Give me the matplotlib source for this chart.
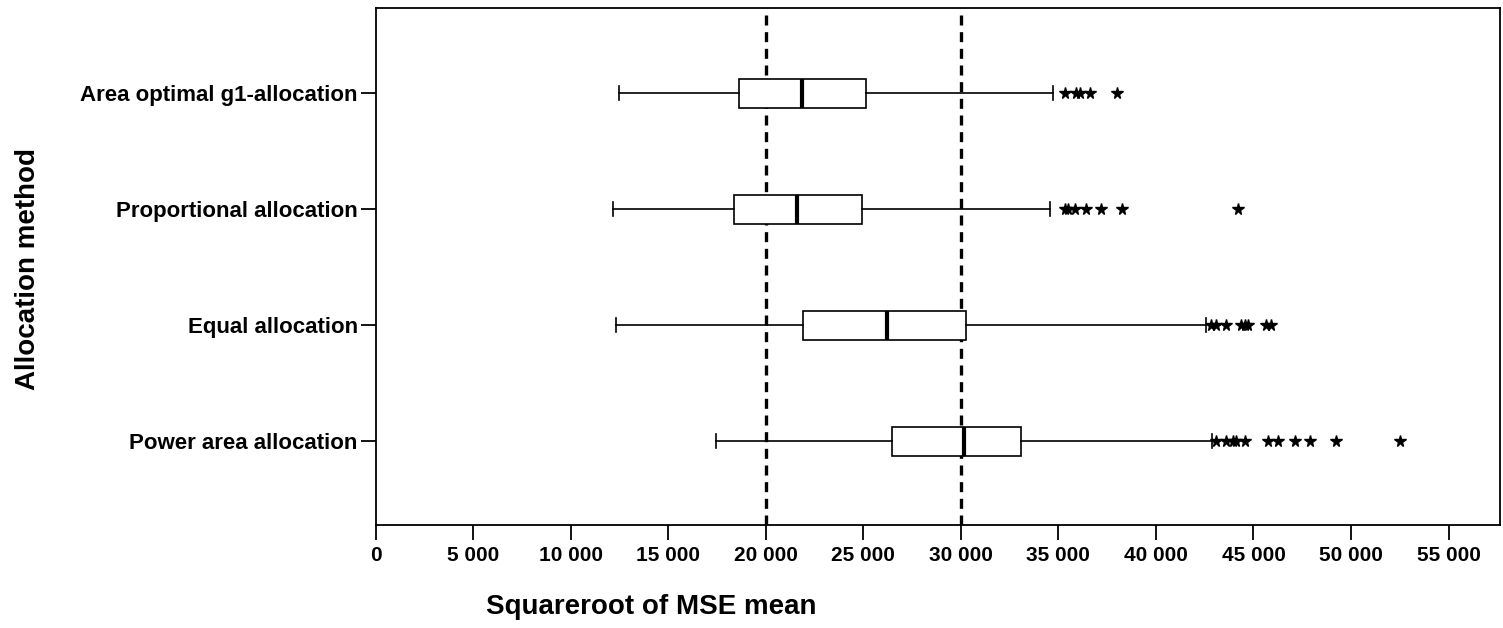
import numpy as np
import matplotlib
matplotlib.use("Agg")
import matplotlib.pyplot as plt
from matplotlib.ticker import FuncFormatter

plt.rcParams['font.family'] = ['Liberation Sans', 'DejaVu Sans']

# bottom to top
methods = ["Power area allocation", "Equal allocation",
           "Proportional allocation", "Area optimal g1-allocation"]
whislo = [17420, 12330, 12150, 12490]
q1 = [26460, 21900, 18360, 18620]
med = [30140, 26230, 21590, 21850]
q3 = [33080, 30260, 24940, 25150]
whishi = [42870, 42580, 34580, 34720]
fliers = [
    [43100, 43610, 43950, 44120, 44550, 45740, 46260, 47110, 47880, 49250, 52500],
    [42840, 43100, 43610, 44380, 44550, 44720, 45660, 45920],
    [35320, 35490, 35830, 36400, 37200, 38280, 44200],
    [35320, 35920, 36090, 36600, 38000],
]
ref_lines = [20000, 30000]

stats = []
for i, m in enumerate(methods):
    stats.append(dict(label=m, whislo=whislo[i], q1=q1[i], med=med[i],
                      q3=q3[i], whishi=whishi[i], fliers=fliers[i]))

fig = plt.figure(figsize=(15.03, 6.28), dpi=100)
ax = fig.add_axes([0.250, 0.164, 0.748, 0.823])

ax.bxp(stats, positions=[1, 2, 3, 4], vert=False, widths=0.25,
       showfliers=True, patch_artist=True,
       boxprops=dict(facecolor='white', edgecolor='black', linewidth=1.2),
       medianprops=dict(color='black', linewidth=3.0),
       whiskerprops=dict(color='black', linewidth=1.2),
       capprops=dict(color='black', linewidth=1.2),
       capwidths=0.12,
       flierprops=dict(marker='*', markerfacecolor='black', markeredgecolor='black',
                       markersize=8.5, linestyle='none'))

for x in ref_lines:
    ax.axvline(x, color='black', linewidth=2.4, linestyle=(0, (3, 2)), zorder=0.5)

ax.set_xlim(0, 57640)
ax.set_ylim(0.276, 4.733)
ax.set_xticks(np.arange(0, 55001, 5000))
ax.xaxis.set_major_formatter(FuncFormatter(lambda v, p: f"{int(v):,}".replace(",", " ")))
ax.set_yticks([1, 2, 3, 4])
ax.set_yticklabels(methods)

for s in ax.spines.values():
    s.set_linewidth(1.3)
ax.tick_params(axis='both', direction='out', length=11, width=1.3, labelsize=15)
ax.tick_params(axis='y', pad=2, labelsize=16)
ax.tick_params(axis='x', pad=4)
for lab in ax.get_xticklabels() + ax.get_yticklabels():
    lab.set_fontweight('bold')

fig.text(651 / 1503, 1 - 607 / 628, "Squareroot of MSE mean", fontsize=20,
         fontweight='bold', ha='center', va='center')
fig.text(28 / 1503, 1 - 269 / 628, "Allocation method", fontsize=20,
         fontweight='bold', ha='center', va='center', rotation=90)

fig.savefig("out.png", dpi=100)
